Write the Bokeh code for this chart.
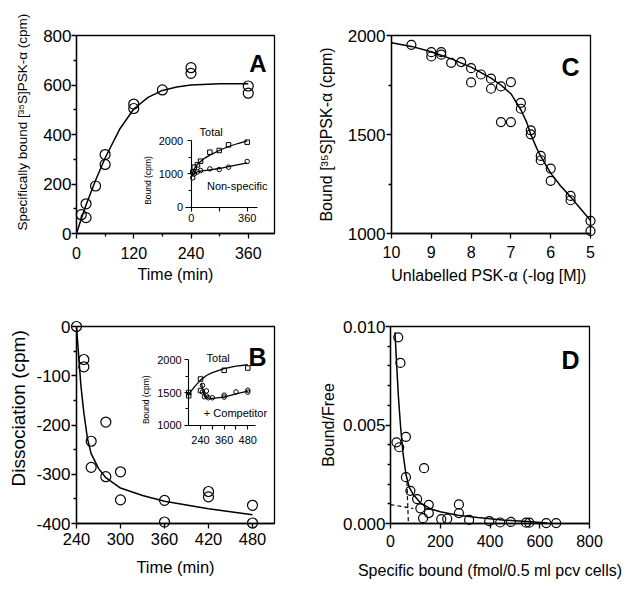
from math import pi
from bokeh.plotting import figure
from bokeh.models import Range1d, LinearAxis, FixedTicker, Label, NumeralTickFormatter, Title
from bokeh.layouts import column, row
from bokeh.embed import file_html
from bokeh.resources import INLINE

FONT = "Liberation Sans"

# ---------------- Panel A : association ----------------
a_time = [10, 20, 20, 40, 60, 60, 120, 120, 180, 240, 240, 360, 360]
a_bound = [76, 120, 64, 192, 319, 279, 523, 505, 580, 670, 647, 596, 567]
a_fit_time = [0, 10, 20, 40, 60, 90, 120, 150, 180, 210, 240, 300, 360]
a_fit_bound = [0, 60, 115, 215, 305, 420, 503, 550, 578, 592, 600, 605, 605]
a_xticks = [0, 120, 240, 360]
a_yticks = [0, 200, 400, 600, 800]
# inset A
ai_time = [10, 20, 40, 60, 120, 180, 240, 360]
ai_total = [1050, 1200, 1270, 1380, 1650, 1700, 1870, 1950]
ai_nonspec = [880, 1000, 1060, 1100, 1150, 1130, 1200, 1370]
ai_fit_total_t = [0, 10, 20, 40, 60, 90, 120, 180, 240, 300, 360]
ai_fit_total = [880, 1050, 1150, 1280, 1370, 1480, 1560, 1700, 1820, 1910, 1990]
ai_fit_ns_t = [0, 10, 20, 40, 60, 120, 180, 240, 360]
ai_fit_ns = [900, 980, 1020, 1060, 1080, 1120, 1160, 1220, 1330]

# ---------------- Panel B : dissociation ----------------
b_time = [240, 250, 250, 260, 260, 280, 280, 300, 300, 360, 360, 420, 420, 480, 480]
b_diss = [0, -67, -82, -233, -286, -194, -305, -295, -352, -353, -397, -335, -346, -363, -399]
b_fit_time = [240, 243, 246, 250, 255, 260, 270, 280, 300, 330, 360, 420, 480]
b_fit_diss = [0, -60, -120, -175, -228, -258, -288, -307, -328, -343, -355, -370, -382]
b_xticks = [240, 300, 360, 420, 480]
b_yticks = [-400, -300, -200, -100, 0]
b_ytick_labels = ["-400", "-300", "-200", "-100", "0"]
# inset B
bi_total_t = [180, 180, 240, 240, 360, 480]
bi_total = [1500, 1450, 1707, 1530, 1840, 1875]
bi_comp_t = [250, 250, 260, 270, 270, 280, 300, 360, 360, 420, 480, 480]
bi_comp = [1610, 1510, 1435, 1525, 1450, 1420, 1420, 1460, 1430, 1510, 1535, 1505]
bi_fit_total_t = [180, 210, 240, 270, 300, 360, 420, 480]
bi_fit_total = [1475, 1590, 1690, 1760, 1805, 1865, 1905, 1925]
bi_fit_comp_t = [245, 255, 265, 280, 300, 360, 420, 480]
bi_fit_comp = [1640, 1500, 1440, 1415, 1410, 1430, 1480, 1520]

# ---------------- Panel C : competition ----------------
c_logm = [9.5, 9, 9, 8.75, 8.75, 8.5, 8.25, 8, 8, 7.75, 7.5, 7.5, 7.25, 7.25,
          7, 7, 6.75, 6.75, 6.5, 6.5, 6.25, 6.25, 6, 6, 5.5, 5.5, 5, 5]
c_bound = [1953, 1916, 1894, 1916, 1903, 1862, 1866, 1835, 1763, 1803, 1782, 1731, 1743, 1563,
           1765, 1563, 1660, 1630, 1521, 1501, 1392, 1370, 1328, 1266, 1190, 1168, 1064, 1012]
c_fit_logm = [10, 9.5, 9, 8.5, 8, 7.5, 7.25, 7, 6.75, 6.6, 6.5, 6.35, 6.25, 6, 5.75, 5.5, 5.25, 5]
c_fit_bound = [1963, 1945, 1918, 1882, 1840, 1785, 1750, 1706, 1625, 1560, 1500, 1430, 1390,
               1305, 1240, 1185, 1125, 1065]
c_xticks = [10, 9, 8, 7, 6, 5]
c_yticks = [1000, 1500, 2000]

# ---------------- Panel D : Scatchard ----------------
d_bound = [31, 40, 24, 35, 62, 62, 80, 107, 120, 135, 131, 154, 154, 204, 228, 275, 275,
           316, 397, 441, 484, 545, 558, 626, 666]
d_ratio = [0.00945, 0.00815, 0.00412, 0.00387, 0.0044, 0.00235, 0.00166, 0.00124, 0.00077,
           0.00281, 0.00027, 0.00095, 0.00053, 0.00022, 0.00024, 0.00097, 0.00053,
           0.00018, 0.00012, 0.00005, 0.00008, 0.00004, 0.00004, 0.00002, 0.00002]
d_fit_bound = [18, 25, 32, 40, 50, 62, 75, 90, 120, 160, 200, 270, 350, 450, 550, 630]
d_fit_ratio = [0.0097, 0.0080, 0.0064, 0.0050, 0.0036, 0.0025, 0.00185, 0.0015, 0.00105,
               0.00075, 0.0006, 0.00042, 0.0003, 0.00018, 0.0001, 0.00002]
d_low_x = [0, 92]
d_low_y = [0.00096, 0.00076]
d_high_x = [66, 72]
d_high_y = [0.0021, 0.0]
d_xticks = [0, 200, 400, 600, 800]
d_yticks = [0.0, 0.005, 0.010]


# ---------------- helpers ----------------
def geom(fl, fr, ft, fb, x0, x1, y0, y1):
    return dict(fl=fl, fr=fr, ft=ft, fb=fb, x0=x0, x1=x1, y0=y0, y1=y1)


def to_data(g, px, py):
    x = g["x0"] + (px - g["fl"]) / (g["fr"] - g["fl"]) * (g["x1"] - g["x0"])
    y = g["y0"] + (g["fb"] - py) / (g["fb"] - g["ft"]) * (g["y1"] - g["y0"])
    return x, y


def inset_ranges(g, xa, xb, ya, yb):
    (vx0, px0), (vx1, px1) = xa, xb
    kx = (vx1 - vx0) / (px1 - px0)
    xr = Range1d(vx0 + (g["fl"] - px0) * kx, vx0 + (g["fr"] - px0) * kx)
    (vy0, py0), (vy1, py1) = ya, yb
    ky = (vy1 - vy0) / (py0 - py1)
    yr = Range1d(vy0 + (py0 - g["fb"]) * ky, vy0 + (py0 - g["ft"]) * ky)
    return xr, yr


def style_axis(ax, size, standoff, tick_out=5, minor_out=3, lw=1.3):
    ax.axis_line_width = lw
    ax.axis_line_color = "black"
    ax.major_tick_line_width = lw
    ax.minor_tick_line_width = lw
    ax.major_tick_line_color = "black"
    ax.minor_tick_line_color = "black"
    ax.major_tick_in = 0
    ax.major_tick_out = tick_out
    ax.minor_tick_in = 0
    ax.minor_tick_out = minor_out
    ax.major_label_text_font = FONT
    ax.major_label_text_font_size = f"{size}px"
    ax.major_label_text_color = "black"
    ax.major_label_standoff = standoff


def axis_title(ax, text, size, standoff):
    ax.axis_label = text
    ax.axis_label_text_font = FONT
    ax.axis_label_text_font_size = f"{size}px"
    ax.axis_label_text_font_style = "normal"
    ax.axis_label_text_color = "black"
    ax.axis_label_standoff = standoff


def side_title(p, text, size, standoff, offset):
    p.add_layout(Title(text=text, align="left", offset=offset, standoff=standoff,
                       text_font=FONT, text_font_size=f"{size}px",
                       text_font_style="normal", text_color="black"), "left")


def make_panel(width, height, g, bl, bt):
    br = width - bl - (g["fr"] - g["fl"])
    bb = height - bt - (g["fb"] - g["ft"])
    p = figure(width=width, height=height,
               x_range=Range1d(g["x0"], g["x1"]), y_range=Range1d(g["y0"], g["y1"]),
               output_backend="svg", toolbar_location=None, tools="",
               min_border_left=bl, min_border_right=br,
               min_border_top=bt, min_border_bottom=bb)
    p.title.visible = False
    p.grid.visible = False
    p.outline_line_color = "black"
    p.outline_line_width = 1.3
    p.outline_line_alpha = 1.0
    p.background_fill_color = "white"
    p.border_fill_color = "white"
    return p


def add_text(p, g, text, px, py, size, bold=False, angle=0.0, align="center"):
    x, y = to_data(g, px, py)
    p.add_layout(Label(x=x, y=y, text=text, text_font=FONT, text_font_size=f"{size}px",
                       text_font_style="bold" if bold else "normal", angle=angle,
                       text_align=align, text_baseline="alphabetic", text_color="black"))


def circles(p, x, y, size, **kw):
    r = p.scatter(x, y, marker="circle", size=size, fill_color=None,
                  line_color="black", line_width=1.2, **kw)
    r.level = "overlay"
    return r


# ================= Panel A =================
gA = geom(76, 274, 35, 233, 0, 415, 0, 800)
pA = make_panel(314, 298, gA, 76, 35)
pA.xaxis.ticker = FixedTicker(ticks=a_xticks, minor_ticks=[60, 180, 300])
pA.yaxis.ticker = FixedTicker(ticks=a_yticks, minor_ticks=[100, 300, 500, 700])
style_axis(pA.xaxis[0], 16, 8)
style_axis(pA.yaxis[0], 17, 0)
axis_title(pA.xaxis[0], "Time (min)", 16, 4)
side_title(pA, "Specifically bound [³⁵S]PSK-α (cpm)", 13.5, 22, 3)
pA.line(a_fit_time, a_fit_bound, line_color="black", line_width=1.5)
circles(pA, a_time, a_bound, 10)

ixr, iyr = inset_ranges(gA, (0, 190.7), (360, 246.7), (0, 206.7), (2000, 140.0))
pA.extra_x_ranges = {"ix": ixr}
pA.extra_y_ranges = {"iy": iyr}
axA_x = LinearAxis(x_range_name="ix", y_range_name="iy", fixed_location=0, bounds=(-35, 425),
                   ticker=FixedTicker(ticks=[0, 360], minor_ticks=[180]))
style_axis(axA_x, 11, 3, tick_out=4, minor_out=4, lw=1.1)
pA.add_layout(axA_x, "below")
axA_y = LinearAxis(x_range_name="ix", y_range_name="iy", fixed_location=0, bounds=(0, 2000),
                   ticker=FixedTicker(ticks=[0, 1000, 2000], minor_ticks=[500, 1500]))
style_axis(axA_y, 11, 4, tick_out=4, minor_out=3, lw=1.1)
pA.add_layout(axA_y, "left")
pA.line(ai_fit_total_t, ai_fit_total, x_range_name="ix", y_range_name="iy",
        line_color="black", line_width=1.3)
pA.line(ai_fit_ns_t, ai_fit_ns, x_range_name="ix", y_range_name="iy",
        line_color="black", line_width=1.3)
pA.scatter(ai_time, ai_total, x_range_name="ix", y_range_name="iy", marker="square",
           size=4.5, fill_color=None, line_color="black", line_width=1.0)
pA.scatter(ai_time, ai_nonspec, x_range_name="ix", y_range_name="iy", marker="circle",
           size=4.5, fill_color=None, line_color="black", line_width=1.0)

add_text(pA, gA, "A", 257.5, 63.3, 24, bold=True)
add_text(pA, gA, "Total", 210.7, 131.7, 11)
add_text(pA, gA, "Non-specific", 236.7, 185.5, 11)
add_text(pA, gA, "Bound (cpm)", 147.5, 180, 8.5, angle=pi / 2)

# ================= Panel C =================
gC = geom(390, 590, 35, 233, 10, 5, 1000, 2000)
pC = make_panel(310, 298, gC, 76, 35)
pC.xaxis.ticker = FixedTicker(ticks=c_xticks)
pC.yaxis.ticker = FixedTicker(ticks=c_yticks, minor_ticks=[1250, 1750])
style_axis(pC.xaxis[0], 16, 7)
style_axis(pC.yaxis[0], 17, 1)
axis_title(pC.xaxis[0], "Unlabelled PSK-α  (-log [M])", 16, 6)
axis_title(pC.yaxis[0], "Bound [³⁵S]PSK-α (cpm)", 16, 10)
pC.line(c_fit_logm, c_fit_bound, line_color="black", line_width=1.5)
circles(pC, c_logm, c_bound, 9)
add_text(pC, gC, "C", 570, 66.5, 25, bold=True)

# ================= Panel B =================
gB = geom(76, 274, 324, 523, 240, 510, -400, 0)
pB = make_panel(314, 292, gB, 76, 26)
pB.xaxis.ticker = FixedTicker(ticks=b_xticks)
pB.yaxis.ticker = FixedTicker(ticks=b_yticks, minor_ticks=[-350, -250, -150, -50])
pB.yaxis.major_label_overrides = dict(zip(b_yticks, b_ytick_labels))
style_axis(pB.xaxis[0], 16.5, 4)
style_axis(pB.yaxis[0], 17, 1)
axis_title(pB.xaxis[0], "Time (min)", 16.5, 10)
side_title(pB, "Dissociation (cpm)", 19, 9, 37)
pB.line(b_fit_time, b_fit_diss, line_color="black", line_width=1.5)
circles(pB, b_time, b_diss, 10)

jxr, jyr = inset_ranges(gB, (240, 200.0), (480, 247.3), (1000, 423.7), (2000, 357.7))
pB.extra_x_ranges = {"ix": jxr}
pB.extra_y_ranges = {"iy": jyr}
axB_x = LinearAxis(x_range_name="ix", y_range_name="iy", fixed_location=1000, bounds=(180, 520),
                   ticker=FixedTicker(ticks=[240, 360, 480], minor_ticks=[300, 420]))
style_axis(axB_x, 11, 7, tick_out=4, minor_out=4, lw=1.1)
pB.add_layout(axB_x, "below")
axB_y = LinearAxis(x_range_name="ix", y_range_name="iy", fixed_location=180, bounds=(1000, 2000),
                   ticker=FixedTicker(ticks=[1000, 1500, 2000], minor_ticks=[1250, 1750]))
style_axis(axB_y, 11, 3, tick_out=4, minor_out=3, lw=1.1)
pB.add_layout(axB_y, "left")
pB.line(bi_fit_total_t, bi_fit_total, x_range_name="ix", y_range_name="iy",
        line_color="black", line_width=1.3)
pB.line(bi_fit_comp_t, bi_fit_comp, x_range_name="ix", y_range_name="iy",
        line_color="black", line_width=1.3)
pB.scatter(bi_total_t, bi_total, x_range_name="ix", y_range_name="iy", marker="square",
           size=4.5, fill_color=None, line_color="black", line_width=1.0)
pB.scatter(bi_comp_t, bi_comp, x_range_name="ix", y_range_name="iy", marker="circle",
           size=4.5, fill_color=None, line_color="black", line_width=1.0)

add_text(pB, gB, "B", 257, 355.3, 25, bold=True)
add_text(pB, gB, "Total", 217.7, 356, 11)
add_text(pB, gB, "+ Competitor", 235, 411, 11)
add_text(pB, gB, "Bound (cpm)", 145, 398, 8.5, angle=pi / 2)

# ================= Panel D =================
gD = geom(390, 589, 326, 524, 0, 800, 0, 0.010)
pD = make_panel(310, 292, gD, 76, 28)
pD.xaxis.ticker = FixedTicker(ticks=d_xticks)
pD.yaxis.ticker = FixedTicker(ticks=d_yticks, minor_ticks=[0.001, 0.002, 0.003, 0.004,
                                                          0.006, 0.007, 0.008, 0.009])
pD.yaxis.formatter = NumeralTickFormatter(format="0.000")
style_axis(pD.xaxis[0], 16, 6)
style_axis(pD.yaxis[0], 17, 0)
axis_title(pD.xaxis[0], "Specific bound (fmol/0.5 ml pcv cells)", 16, 12)
axis_title(pD.yaxis[0], "Bound/Free", 16, 3)
pD.line(d_fit_bound, d_fit_ratio, line_color="black", line_width=1.5)
pD.line(d_low_x, d_low_y, line_color="black", line_width=1.2, line_dash="4 3")
pD.line(d_high_x, d_high_y, line_color="black", line_width=1.2, line_dash="4 3")
circles(pD, d_bound, d_ratio, 9)
add_text(pD, gD, "D", 570, 360, 25, bold=True)

layout = column(row(pA, pC), row(pB, pD))
open("out.html", "w").write(file_html(layout, INLINE))
